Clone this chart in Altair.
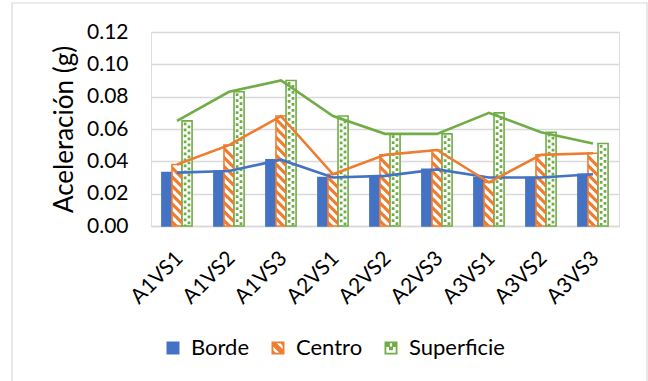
import altair as alt
import pandas as pd

# ---- data -------------------------------------------------------------
categories = ["A1VS1", "A1VS2", "A1VS3", "A2VS1", "A2VS2", "A2VS3",
              "A3VS1", "A3VS2", "A3VS3"]
series_names = ["Borde", "Centro", "Superficie"]
borde = [0.033, 0.034, 0.041, 0.030, 0.031, 0.035, 0.030, 0.030, 0.032]
centro = [0.038, 0.050, 0.068, 0.032, 0.044, 0.047, 0.027, 0.044, 0.045]
superficie = [0.065, 0.083, 0.090, 0.068, 0.057, 0.057, 0.070, 0.058, 0.051]
y_ticks = [0.00, 0.02, 0.04, 0.06, 0.08, 0.10, 0.12]

colors = ["#4472C4", "#ED7D31", "#70AD47"]
FONT = "Lato"
W, H = 468, 194
Y_MAX = 0.12
PX = Y_MAX / H  # data units per pixel on the y scale

rows = []
for name, vals in zip(series_names, [borde, centro, superficie]):
    for cat, v in zip(categories, vals):
        rows.append({"cat": cat, "serie": name, "valor": v})
df = pd.DataFrame(rows)

# ---- pattern fills (drawn as repeated tiles inside each bar) -------------
# diagonal stripe tile: a 45° band spanning the bar width
STRIPE = "M-1,-1.45L1,0.55L1,1.45L-1,-0.55Z"
STRIPE_HALF = 1.45 * 5 * PX
STRIPE_STEP = 9 * PX
stripe_rows = []
for cat, v in zip(categories, centro):
    yc = v - STRIPE_HALF - 1 * PX
    while yc > -STRIPE_HALF:
        stripe_rows.append({"cat": cat, "serie": "Centro", "valor": yc})
        yc -= STRIPE_STEP
stripes = pd.DataFrame(stripe_rows)

# staggered small-square tile
DOTS = "M-0.66,-0.6h0.55v0.55h-0.55Z M0.11,0h0.55v0.55h-0.55Z"
DOT_STEP = 6 * PX
dot_rows = []
for cat, v in zip(categories, superficie):
    yc = v - 4.5 * PX
    while yc > -4 * PX:
        dot_rows.append({"cat": cat, "serie": "Superficie", "valor": yc})
        yc -= DOT_STEP
dots = pd.DataFrame(dot_rows)

# legend icons
ICON_SOLID = "M-1,-1H1V1H-1Z"
ICON_STRIPE = ("M-1,-1H1V1H-1Z M-0.72,-0.72V0.72H0.72V-0.72Z "
               "M-0.72,-0.72L-0.2,-0.72L0.72,0.2L0.72,0.72L0.2,0.72L-0.72,-0.2Z "
               "M0.35,-0.72L0.72,-0.72L0.72,-0.35Z M-0.72,0.35L-0.35,0.72L-0.72,0.72Z")
ICON_DOTS = ("M-1,-1H1V1H-1Z M-0.72,-0.72V0.72H0.72V-0.72Z "
             "M-0.72,-0.72H-0.17V-0.17H-0.72Z M0.17,-0.72H0.72V-0.17H0.17Z "
             "M-0.3,-0.25H0.3V0.35H-0.3Z")

# ---- shared encodings ------------------------------------------------------
x_axis = alt.Axis(
    title=None, labelAngle=-45, labelAlign="right", labelBaseline="middle",
    labelFont=FONT, labelFontSize=21, labelColor="#000000",
    labelPadding=29, labelOffset=3, ticks=False, tickSize=0,
    domainColor="#D9D9D9", domainWidth=1.3, grid=False, labelOverlap=False,
)
y_axis = alt.Axis(
    title="Aceleración (g)", values=y_ticks, format=".2f",
    labelFont=FONT, labelFontSize=21, labelColor="#000000",
    labelPadding=23, ticks=False, tickSize=0, domain=False,
    labelOverlap=False, labelBound=False, labelFlush=False,
    grid=True, gridColor="#D9D9D9", gridWidth=1.3,
    titleFont=FONT, titleFontSize=26, titleFontWeight="normal",
    titleColor="#000000", titlePadding=9,
)
x_enc = alt.X(
    "cat:N", sort=categories,
    scale=alt.Scale(domain=categories, paddingInner=0.42, paddingOuter=0.21),
    axis=x_axis,
)
y_enc = alt.Y("valor:Q", scale=alt.Scale(domain=[0, Y_MAX], nice=False), axis=y_axis)
xoff_enc = alt.XOffset(
    "serie:N", scale=alt.Scale(domain=series_names, paddingInner=0, paddingOuter=0)
)
stroke_scale = alt.Scale(domain=series_names, range=colors)

# ---- layers --------------------------------------------------------------
frame = alt.Chart(pd.DataFrame({"k": [0]})).mark_rect(
    filled=False, stroke="#D9D9D9", strokeWidth=1.2
).encode(
    x=alt.value(-139), x2=alt.value(496), y=alt.value(-29), y2=alt.value(380)
)

bars = alt.Chart(df).mark_bar(strokeWidth=1.6).encode(
    x=x_enc, y=y_enc, xOffset=xoff_enc,
    fill=alt.Fill("serie:N", scale=alt.Scale(domain=series_names,
                  range=["#4472C4", "#FFFFFF", "#FFFFFF"]), legend=None),
    stroke=alt.Stroke("serie:N", scale=stroke_scale, legend=None),
)

stripe_layer = alt.Chart(stripes).mark_point(
    shape=STRIPE, filled=True, size=100, color="#ED7D31", opacity=1,
    strokeWidth=0, clip=True,
).encode(x=x_enc, y=y_enc, xOffset=xoff_enc)

dot_layer = alt.Chart(dots).mark_point(
    shape=DOTS, filled=True, size=100, color="#70AD47", opacity=1,
    strokeWidth=0, clip=True,
).encode(x=x_enc, y=y_enc, xOffset=xoff_enc)

lines = alt.Chart(df).mark_line(strokeWidth=2.6).encode(
    x=x_enc, y=y_enc,
    stroke=alt.Stroke("serie:N", scale=stroke_scale, legend=None),
    detail="serie:N",
)

legend_spec = alt.Legend(
    title=None, orient="none", direction="horizontal", legendX=11, legendY=305,
    labelFont=FONT, labelFontSize=22, labelColor="#000000", labelOffset=7,
    symbolSize=169, symbolStrokeWidth=0, symbolOpacity=1, columnPadding=17,
    padding=0,
)
legend_layer = alt.Chart(df[df["cat"] == categories[0]]).mark_point(
    filled=True, opacity=0, size=10,
).encode(
    x=x_enc, y=y_enc,
    color=alt.Color("serie:N", scale=alt.Scale(domain=series_names, range=colors),
                    legend=legend_spec),
    shape=alt.Shape("serie:N", scale=alt.Scale(domain=series_names,
                    range=[ICON_SOLID, ICON_STRIPE, ICON_DOTS]), legend=legend_spec),
)

chart = alt.layer(
    frame, bars, stripe_layer, dot_layer, lines, legend_layer
).resolve_scale(
    color="independent", shape="independent"
).properties(
    width=W, height=H,
    autosize=alt.AutoSizeParams(type="none"),
    padding={"left": 151, "top": 32, "right": 29, "bottom": 155},
).configure_view(
    stroke=None
).configure_axisY(
    labelOverlap=False
).configure(background="white")

chart.save("out.html", embed_options={"renderer": "svg", "actions": False})
